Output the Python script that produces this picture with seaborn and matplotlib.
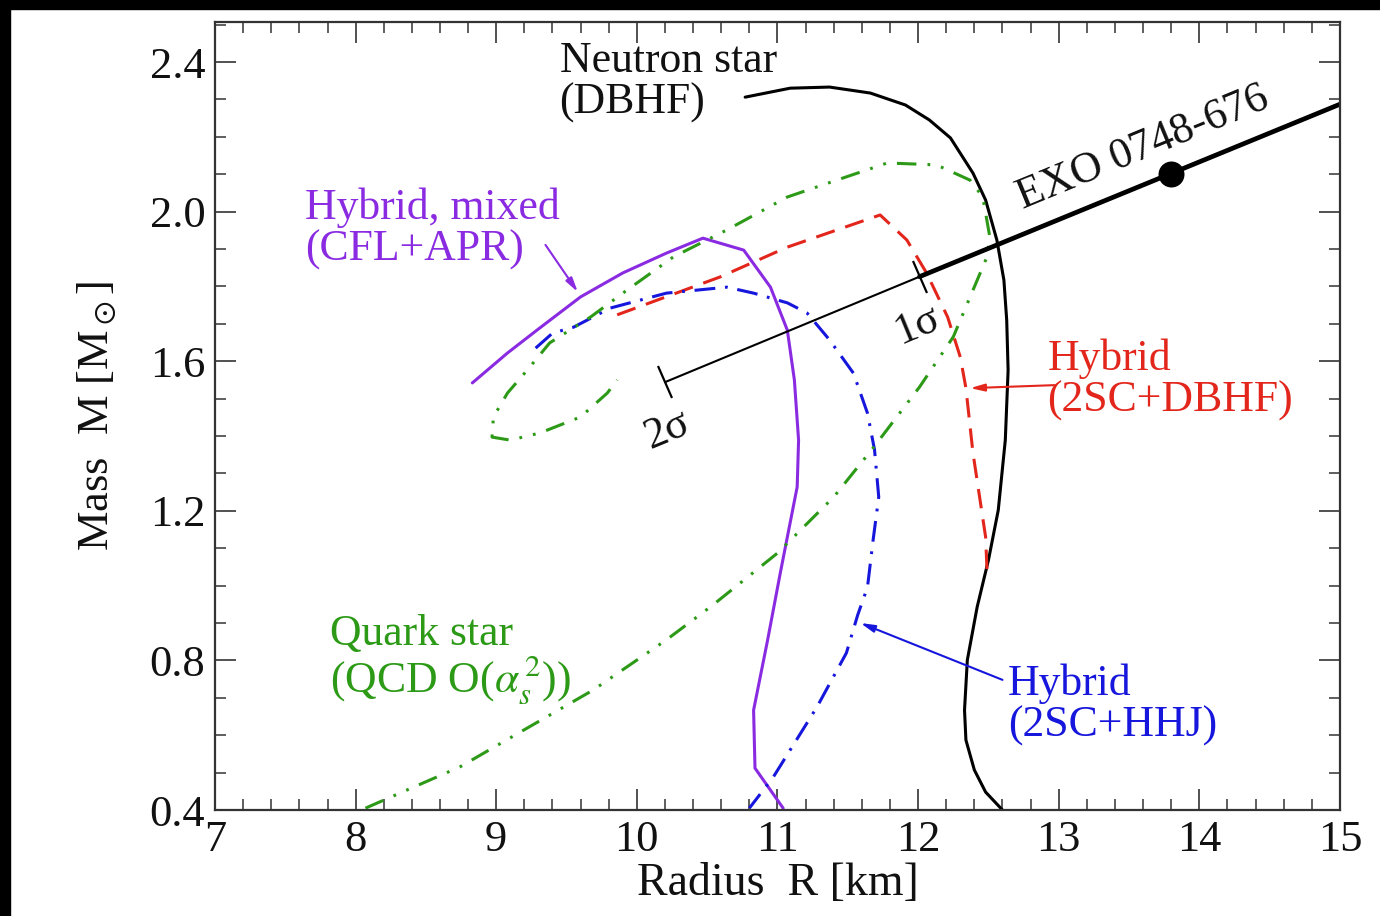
# Mass-radius relations of compact stars vs. the EXO 0748-676 constraint
import numpy as np
import pandas as pd
import matplotlib
matplotlib.use("Agg")
import matplotlib.pyplot as plt
import seaborn as sns
from matplotlib.ticker import MultipleLocator, FormatStrFormatter
from matplotlib.markers import MarkerStyle
from matplotlib.transforms import Affine2D
from matplotlib.patches import Rectangle

# --------------------------------------------
# Data
# --------------------------------------------
ns_radius = [10.77, 11.09, 11.37, 11.66, 11.91, 12.08, 12.23, 12.39, 12.48, 12.56,
             12.61, 12.63, 12.64, 12.62, 12.57, 12.50, 12.42, 12.35, 12.33, 12.34,
             12.40, 12.48, 12.60]
ns_mass = [2.306, 2.330, 2.333, 2.317, 2.285, 2.245, 2.197, 2.103, 2.031, 1.924,
           1.817, 1.710, 1.576, 1.389, 1.202, 1.068, 0.943, 0.801, 0.667, 0.587,
           0.507, 0.448, 0.400]

mixed_radius = [8.83, 9.08, 9.31, 9.60, 9.90, 10.21, 10.47, 10.76, 10.95, 11.07,
                11.12, 11.15, 11.14, 11.02, 10.93, 10.83, 10.84, 11.04]
mixed_mass = [1.542, 1.622, 1.689, 1.772, 1.836, 1.889, 1.929, 1.897, 1.798, 1.683,
              1.550, 1.389, 1.264, 1.034, 0.855, 0.667, 0.512, 0.405]

dbhf_radius = [9.86, 10.59, 11.07, 11.73, 11.92, 12.06, 12.21, 12.30, 12.34, 12.39,
               12.48, 12.49]
dbhf_mass = [1.724, 1.825, 1.905, 1.991, 1.924, 1.836, 1.718, 1.611, 1.528, 1.355,
             1.130, 1.042]

hhj_radius = [9.28, 9.40, 9.55, 9.81, 10.21, 10.64, 10.83, 11.07, 11.21, 11.37,
              11.54, 11.64, 11.69, 11.72, 11.68, 11.64, 11.57, 11.49, 11.28, 10.97,
              10.80]
hhj_mass = [1.635, 1.675, 1.691, 1.742, 1.782, 1.798, 1.782, 1.756, 1.729, 1.657,
            1.568, 1.461, 1.363, 1.237, 1.122, 0.996, 0.921, 0.820, 0.675, 0.488,
            0.405]

quark_radius = [8.07, 8.74, 9.69, 10.21, 10.54, 11.00, 11.40, 11.68, 12.01, 12.25,
                12.37, 12.49, 12.51, 12.46, 12.37, 12.13, 11.78, 11.42, 11.07, 10.64,
                10.26, 9.90, 9.67, 9.38, 9.22, 9.08, 8.98, 8.97, 9.10, 9.31,
                9.60, 9.79, 9.86]
quark_mass = [0.405, 0.515, 0.721, 0.855, 0.948, 1.087, 1.237, 1.368, 1.531, 1.665,
              1.772, 1.879, 1.932, 2.039, 2.084, 2.125, 2.130, 2.084, 2.039, 1.951,
              1.879, 1.782, 1.718, 1.649, 1.576, 1.515, 1.451, 1.397, 1.389, 1.408,
              1.451, 1.515, 1.550]

# EXO 0748-676 redshift constraint
exo_sigma_radius = [10.20, 12.01]     # 2 sigma, 1 sigma ends
exo_sigma_mass = [1.544, 1.826]
exo_thick_radius = [12.01, 15.20]
exo_thick_mass = [1.826, 2.318]
exo_point_radius = [13.80]
exo_point_mass = [2.100]
sigma_labels = ["2σ", "1σ"]

curves = pd.DataFrame({
    "name": ["ns", "mixed", "dbhf", "hhj", "quark"],
    "color": ["black", "#8a2be2", "#e3261c", "#1616dc", "#2c9a16"],
})

# --------------------------------------------
# Style
# --------------------------------------------
sns.set_theme(style="ticks")
plt.rcParams["font.family"] = ["Liberation Serif", "DejaVu Serif"]
plt.rcParams["mathtext.fontset"] = "stix"
plt.rcParams["lines.scale_dashes"] = False
plt.rcParams["axes.edgecolor"] = "#333333"
plt.rcParams["axes.linewidth"] = 1.6

fig = plt.figure(figsize=(13.8, 9.16), dpi=100, facecolor="white")
ax = fig.add_axes([0.1558, 0.1157, 0.8152, 0.8603])

col = dict(zip(curves["name"], curves["color"]))

# --------------------------------------------
# Curves
# --------------------------------------------
sns.lineplot(x=ns_radius, y=ns_mass, sort=False, estimator=None,
             color=col["ns"], lw=2.2, ax=ax)
sns.lineplot(x=mixed_radius, y=mixed_mass, sort=False, estimator=None,
             color=col["mixed"], lw=2.2, ax=ax)
sns.lineplot(x=dbhf_radius, y=dbhf_mass, sort=False, estimator=None,
             color=col["dbhf"], lw=2.2, linestyle=(0, (14, 8)), ax=ax)
sns.lineplot(x=hhj_radius, y=hhj_mass, sort=False, estimator=None,
             color=col["hhj"], lw=2.2, linestyle=(0, (15, 7, 2, 7)), ax=ax)
sns.lineplot(x=quark_radius, y=quark_mass, sort=False, estimator=None,
             color=col["quark"], lw=2.2, linestyle=(0, (14, 8, 2, 8, 2, 8)), ax=ax)

# EXO 0748-676 line
sns.lineplot(x=exo_sigma_radius, y=exo_sigma_mass, sort=False, estimator=None,
             color="black", lw=1.5, ax=ax)
sns.lineplot(x=exo_thick_radius, y=exo_thick_mass, sort=False, estimator=None,
             color="black", lw=3.4, ax=ax)
cap = MarkerStyle("|", transform=Affine2D().rotate_deg(22.4))
ax.plot(exo_sigma_radius, exo_sigma_mass, linestyle="none", marker=cap,
        markersize=25, markeredgewidth=1.6, color="black", zorder=5)
sns.scatterplot(x=exo_point_radius, y=exo_point_mass, s=300, color="black",
                edgecolor="black", zorder=6, ax=ax)

# --------------------------------------------
# Axes
# --------------------------------------------
ax.set_xlim(7, 15)
ax.set_ylim(0.4, 2.507)
ax.xaxis.set_major_locator(MultipleLocator(1))
ax.xaxis.set_minor_locator(MultipleLocator(0.2))
ax.yaxis.set_major_locator(MultipleLocator(0.4))
ax.yaxis.set_minor_locator(MultipleLocator(0.1))
ax.yaxis.set_major_formatter(FormatStrFormatter("%.1f"))
ax.tick_params(which="both", direction="in", top=True, right=True,
               color="#333333", labelsize=32, labelcolor="#111111")
ax.tick_params(which="major", length=15, width=1.2)
ax.tick_params(which="minor", length=8, width=1.1)
ax.tick_params(axis="x", pad=7)
ax.tick_params(axis="y", pad=7)

ax.set_xlabel("Radius  R [km]", fontsize=33, color="#111111")
ax.set_ylabel(r"Mass  M [M$_\odot$]", fontsize=32, color="#111111")
ax.xaxis.set_label_coords(0.5, -0.066)
ax.yaxis.set_label_coords(-0.086, 0.5)

# --------------------------------------------
# Annotations
# --------------------------------------------
fs = 31.5
ax.text(9.45, 2.347, "Neutron star\n(DBHF)", fontsize=fs, color="#111111",
        ha="left", va="center", linespacing=1.05)
ax.text(7.64, 1.953, "Hybrid, mixed\n(CFL+APR)", fontsize=fs, color=col["mixed"],
        ha="left", va="center", linespacing=1.05)
ax.text(12.92, 1.550, "Hybrid\n(2SC+DBHF)", fontsize=fs, color=col["dbhf"],
        ha="left", va="center", linespacing=1.05)
ax.text(7.82, 0.801, "Quark star\n" + r"(QCD O($\alpha_s^{\,2}$))", fontsize=fs,
        color=col["quark"], ha="left", va="center", linespacing=1.0)
ax.text(12.64, 0.681, "Hybrid\n(2SC+HHJ)", fontsize=fs, color=col["hhj"],
        ha="left", va="center", linespacing=1.05)

ax.text(13.60, 2.170, "EXO 0748-676", fontsize=fs, color="#111111",
        ha="center", va="center", rotation=22.4, rotation_mode="anchor")
ax.text(10.21, 1.416, sigma_labels[0], fontsize=fs, color="#111111",
        ha="center", va="center", rotation=22.4, rotation_mode="anchor")
ax.text(11.99, 1.697, sigma_labels[1], fontsize=fs, color="#111111",
        ha="center", va="center", rotation=22.4, rotation_mode="anchor")

arrow = dict(arrowstyle="-|>,head_length=0.7,head_width=0.18", lw=1.5,
             shrinkA=0, shrinkB=0)
ax.annotate("", xy=(9.58, 1.785), xytext=(9.35, 1.911),
            arrowprops=dict(arrow, color=col["mixed"]))
ax.annotate("", xy=(12.37, 1.528), xytext=(12.97, 1.536),
            arrowprops=dict(arrow, color=col["dbhf"]))
ax.annotate("", xy=(11.59, 0.900), xytext=(12.60, 0.748),
            arrowprops=dict(arrow, color=col["hhj"]))

# black screenshot edges
fig.add_artist(Rectangle((0, 1 - 9 / 916), 1, 9 / 916, transform=fig.transFigure,
                         color="black", zorder=0))
fig.add_artist(Rectangle((0, 0), 10 / 1380, 1, transform=fig.transFigure,
                         color="black", zorder=0))

fig.savefig("out.png", dpi=100, facecolor="white")
